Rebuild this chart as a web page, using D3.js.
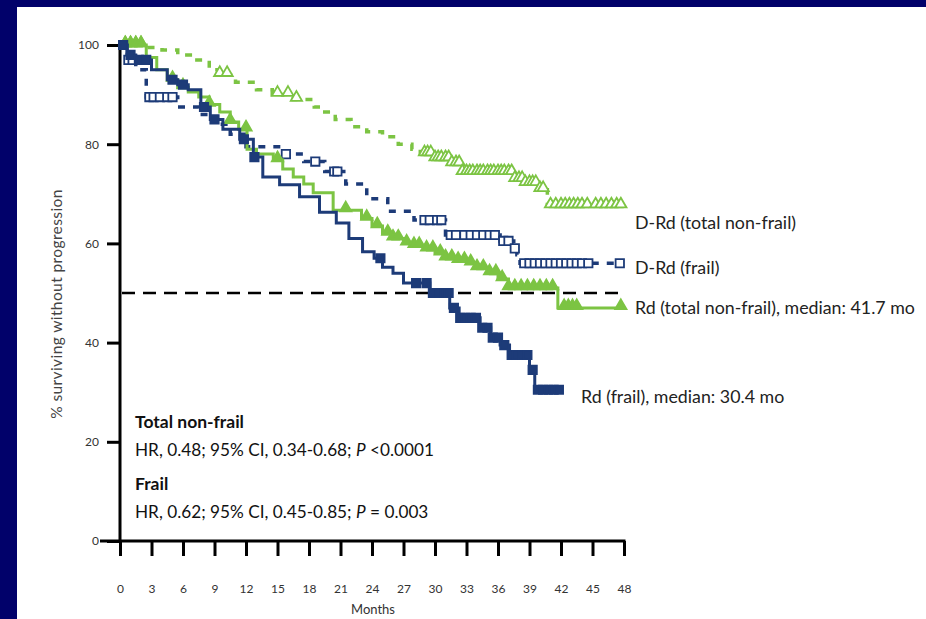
<!DOCTYPE html>
<html>
<head>
<meta charset="utf-8">
<script src="https://cdn.jsdelivr.net/npm/d3@7"></script>
<style>
  html, body { margin: 0; padding: 0; background: #ffffff; overflow: hidden; }
  svg { display: block; }
  text { font-family: Lato, "Open Sans", sans-serif; }
</style>
</head>
<body>
<svg id="chart" width="926" height="619"></svg>
<script>
// Axis ticks
const monthTicks = [0, 3, 6, 9, 12, 15, 18, 21, 24, 27, 30, 33, 36, 39, 42, 45, 48];
const pctTicks = [0, 20, 40, 60, 80, 100];

// Kaplan-Meier step data: event times (months) and % progression-free
const drdNonFrailT = [0, 2.5, 4, 5.5, 7, 8.5, 9.5, 11, 13, 14.5, 16.5, 18.5, 19.5, 20.5, 22, 23.5, 25, 26.5, 27.8, 28.6, 30, 31.4, 32.4, 37.5, 38.5, 40, 40.7, 47.8];
const drdNonFrailS = [100, 99.5, 99, 98, 97, 95, 94, 92.5, 91, 90, 89, 87.5, 86.5, 85, 83.5, 82.5, 81.5, 80, 79, 78, 77, 76, 74.2, 72.8, 72, 70.8, 67.5, 67.5];

const drdFrailT = [0, 0.7, 1.5, 2.5, 5.5, 7.5, 9, 10.5, 12, 15.5, 17.5, 19.5, 21.5, 23.5, 25.5, 28, 31, 36.2, 37.5, 37.8, 38.1, 47.8];
const drdFrailS = [100, 97, 95, 89.5, 87.5, 86, 84, 82, 79.5, 78, 76.5, 74.5, 72, 69, 66.5, 64.7, 61.7, 60.5, 59, 57.7, 56, 56];

const rdNonFrailT = [0, 2.5, 3.5, 4.5, 5.5, 6.5, 7.5, 8.5, 9.5, 10.5, 11.3, 12.1, 13, 14.6, 15.5, 16.5, 17.5, 18.4, 20.3, 23, 24, 25, 26, 27, 28, 29, 30, 31, 32, 33, 34, 35, 36, 37, 41.7, 48];
const rdNonFrailS = [100, 97.5, 95, 93, 91.5, 90.5, 89.5, 88, 86.5, 84.5, 83, 79, 78, 76.8, 75, 73.4, 72, 70.2, 66.7, 65, 63.5, 62, 61, 60, 59.5, 58.8, 58, 57, 56.5, 56, 55, 54, 52.8, 51, 47, 47];

const rdFrailT = [0, 0.7, 1.5, 3, 4.5, 5.5, 6.5, 7.7, 8.6, 9.8, 11.4, 12.7, 13.6, 15.2, 17.1, 19, 20.6, 21.8, 23.1, 24.2, 25, 26, 27, 29.5, 31.4, 32.3, 34.3, 35.3, 36.2, 37.1, 39, 39.5, 42];
const rdFrailS = [100, 98, 97, 95, 93, 92, 91, 87.5, 85, 83, 81, 77.4, 73.4, 71.8, 69.4, 66.3, 64.1, 61, 58.3, 57, 55.2, 54, 52, 50, 47, 45, 43, 41, 39.5, 37.5, 34.5, 30.5, 30.5];

// Censoring times (months)
const drdNonFrailCens = [0.5, 1, 1.5, 2, 9.5, 10.2, 15, 16, 16.8, 29, 29.3, 29.6, 30, 30.3, 30.6, 31, 31.3, 31.6, 32, 32.3, 32.6, 33, 33.3, 33.6, 34, 34.3, 34.6, 35, 35.3, 35.6, 36, 36.3, 36.6, 37, 37.3, 37.6, 38, 38.3, 38.6, 39, 39.3, 39.6, 40, 40.3, 41, 41.5, 42, 42.4, 42.8, 43.2, 43.6, 44, 44.5, 45.3, 45.8, 46.3, 46.8, 47.3, 47.7];
const drdFrailCens = [0.3, 0.8, 1.2, 2.8, 3.2, 3.8, 4.5, 5, 15.8, 18.6, 20.4, 20.7, 29, 29.5, 30.2, 30.6, 31.5, 32, 32.8, 33.4, 34, 34.6, 35.2, 35.7, 36.5, 37, 37.6, 38.5, 39, 39.5, 40, 40.5, 41, 41.5, 42, 42.5, 43, 43.5, 44, 44.6, 47.6];
const rdNonFrailCens = [0.5, 1, 1.5, 2, 5, 6, 8.5, 10.5, 12, 15, 21.5, 23.5, 24.5, 25.5, 26, 26.5, 27.3, 28, 28.5, 29.2, 29.8, 30.5, 31, 31.6, 32.2, 32.8, 33.4, 34, 34.6, 35.2, 35.8, 36.4, 37, 37.6, 38.2, 38.8, 39.4, 40, 40.6, 41.2, 42.3, 42.7, 43.1, 43.5, 47.7];
const rdFrailCens = [0.3, 1, 1.8, 2.5, 5, 6, 8, 9, 11.8, 12.8, 24.8, 28.2, 29.2, 29.8, 30.4, 30.9, 31.3, 31.8, 32.4, 32.9, 33.4, 33.9, 34.5, 35, 35.5, 36, 36.6, 37.3, 37.8, 38.3, 38.8, 39.3, 39.8, 40.3, 40.8, 41.3, 41.8];

const seriesLabels = ["D-Rd (total non-frail)", "D-Rd (frail)", "Rd (total non-frail), median: 41.7 mo", "Rd (frail), median: 30.4 mo"];
const medianLine = 50;

const NAVY = "#1d3b78";
const GREEN = "#7cc443";
const FRAME = "#01016a";

const svg = d3.select("#chart");
// Slide frame: navy bands along the top and left edges only
svg.append("rect").attr("x", 0).attr("y", 0).attr("width", 926).attr("height", 7).attr("fill", FRAME);
svg.append("rect").attr("x", 0).attr("y", 0).attr("width", 17).attr("height", 619).attr("fill", FRAME);

const x = d3.scaleLinear().domain([0, 48]).range([120, 624]);
const y = d3.scaleLinear().domain([0, 100]).range([541, 45]);

// Axes
const xAxis = d3.axisBottom(x).tickValues(monthTicks).tickSize(15).tickPadding(28).tickSizeOuter(0);
const gx = svg.append("g").attr("transform", `translate(0,${y(0)})`).call(xAxis);
const yAxis = d3.axisLeft(y).tickValues(pctTicks).tickSize(13).tickPadding(8).tickSizeOuter(0);
const gy = svg.append("g").attr("transform", `translate(${x(0)},0)`).call(yAxis);
[gx, gy].forEach(g => {
  g.select(".domain").attr("stroke", "#000").attr("stroke-width", 3);
  g.selectAll(".tick line").attr("stroke", "#000").attr("stroke-width", 3);
  g.selectAll(".tick text").attr("fill", "#333").style("font-size", "12px").style("font-family", "Lato, sans-serif");
});
gx.select(".domain").attr("d", `M${x(0) - 20},0H${x(48) + 1.5}`);
gy.select(".domain").attr("d", `M0,${y(100) - 3}V${y(0)}`);

// Axis titles
svg.append("text").attr("x", 373).attr("y", 614).attr("text-anchor", "middle")
  .attr("fill", "#333").style("font-size", "13px").text("Months");
svg.append("text").attr("transform", `translate(62,304) rotate(-90)`).attr("text-anchor", "middle")
  .attr("fill", "#444").style("font-size", "15.5px").style("letter-spacing", "0.4px").text("% surviving without progression");

// Median reference line
svg.append("line").attr("x1", x(0) + 2).attr("x2", x(48)).attr("y1", y(medianLine)).attr("y2", y(medianLine))
  .attr("stroke", "#000").attr("stroke-width", 2.5).attr("stroke-dasharray", "13,8");

function stepAt(T, S, t) {
  let v = S[0];
  for (let i = 0; i < T.length; i++) { if (T[i] <= t) v = S[i]; }
  return v;
}

const line = d3.line().x(d => x(d[0])).y(d => y(d[1])).curve(d3.curveStepAfter);
const tri = d3.symbol().type(d3.symbolTriangle).size(55)();
const sq = d3.symbol().type(d3.symbolSquare).size(70)();

const series = [
  { T: drdNonFrailT, S: drdNonFrailS, C: drdNonFrailCens, color: GREEN, dash: "7,8", width: 3.5, sym: tri, filled: false },
  { T: drdFrailT, S: drdFrailS, C: drdFrailCens, color: NAVY, dash: "7,8", width: 3.5, sym: sq, filled: false },
  { T: rdNonFrailT, S: rdNonFrailS, C: rdNonFrailCens, color: GREEN, dash: null, width: 3, sym: tri, filled: true },
  { T: rdFrailT, S: rdFrailS, C: rdFrailCens, color: NAVY, dash: null, width: 3, sym: sq, filled: true }
];

series.forEach(s => {
  const pts = s.T.map((t, i) => [t, s.S[i]]);
  svg.append("path").datum(pts).attr("d", line).attr("fill", "none")
    .attr("stroke", s.color).attr("stroke-width", s.width)
    .attr("stroke-dasharray", s.dash);
  svg.append("g").selectAll("path").data(s.C).join("path")
    .attr("d", s.sym)
    .attr("transform", d => `translate(${x(d)},${y(stepAt(s.T, s.S, d)) - (s.sym === tri ? 2 : 0)})`)
    .attr("fill", s.filled ? s.color : "#fff")
    .attr("stroke", s.color).attr("stroke-width", 1.8);
});

// Series labels
const labelPos = [[635, 229], [635, 274], [635, 314], [581, 403]];
seriesLabels.forEach((t, i) => {
  svg.append("text").attr("x", labelPos[i][0]).attr("y", labelPos[i][1])
    .attr("fill", "#222").style("font-size", "17.8px").text(t);
});

// Hazard ratio annotations
const notes = svg.append("g").attr("fill", "#111").style("font-size", "17.2px");
notes.append("text").attr("x", 135).attr("y", 428).style("font-weight", "bold").style("font-size", "17.5px").text("Total non-frail");
const hr1 = notes.append("text").attr("x", 135).attr("y", 456);
hr1.append("tspan").text("HR, 0.48; 95% CI, 0.34-0.68; ");
hr1.append("tspan").style("font-style", "italic").text("P");
hr1.append("tspan").text(" <0.0001");
notes.append("text").attr("x", 135).attr("y", 490).style("font-weight", "bold").style("font-size", "17.5px").text("Frail");
const hr2 = notes.append("text").attr("x", 135).attr("y", 518);
hr2.append("tspan").text("HR, 0.62; 95% CI, 0.45-0.85; ");
hr2.append("tspan").style("font-style", "italic").text("P");
hr2.append("tspan").text(" = 0.003");
</script>
</body>
</html>
